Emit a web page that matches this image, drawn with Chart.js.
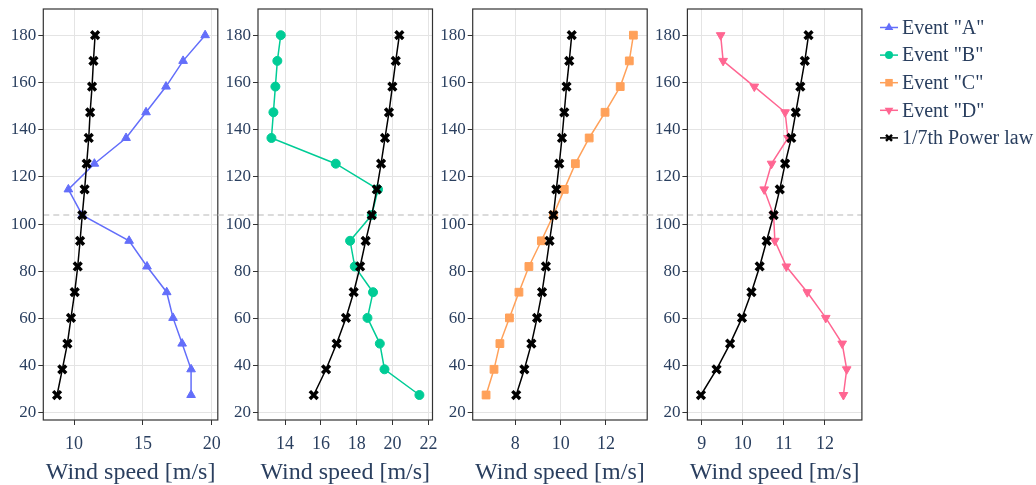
<!DOCTYPE html>
<html>
<head>
<meta charset="utf-8">
<script src="https://cdn.jsdelivr.net/npm/chart.js@4.4.1/dist/chart.umd.min.js"></script>
<style>
  body { margin: 0; background: #fff; width: 1036px; height: 485px; overflow: hidden; position: relative; }
  .panel { position: absolute; top: 0; height: 485px; }
</style>
</head>
<body>
<div class="panel" id="p0"><canvas id="c0"></canvas></div>
<div class="panel" id="p1"><canvas id="c1"></canvas></div>
<div class="panel" id="p2"><canvas id="c2"></canvas></div>
<div class="panel" id="p3"><canvas id="c3"></canvas></div>
<script>
// measurement heights [m] and hub height
const heights = [27.5, 38.4, 49.3, 60.2, 71.1, 82.0, 92.9, 103.8, 114.7, 125.6, 136.5, 147.4, 158.3, 169.2, 180.1];
const hubHeight = 103.8;

// wind speed profiles [m/s], bottom to top
const eventA = [18.50, 18.50, 17.85, 17.19, 16.73, 15.30, 14.00, 10.60, 9.59, 11.48, 13.78, 15.23, 16.68, 17.92, 19.52];
const powerA = [8.77, 9.15, 9.52, 9.78, 10.05, 10.27, 10.44, 10.60, 10.77, 10.92, 11.07, 11.17, 11.31, 11.41, 11.53];
const eventB = [21.50, 19.55, 19.29, 18.60, 18.91, 17.89, 17.63, 18.84, 19.19, 16.83, 13.24, 13.35, 13.46, 13.57, 13.76];
const powerB = [15.60, 16.29, 16.88, 17.40, 17.83, 18.19, 18.50, 18.84, 19.12, 19.36, 19.58, 19.80, 19.99, 20.18, 20.38];
const eventC = [6.71, 7.06, 7.32, 7.74, 8.16, 8.60, 9.15, 9.68, 10.16, 10.65, 11.26, 11.96, 12.63, 13.03, 13.21];
const powerC = [8.04, 8.40, 8.71, 8.96, 9.18, 9.35, 9.51, 9.68, 9.81, 9.94, 10.06, 10.16, 10.26, 10.38, 10.49];
const eventD = [12.45, 12.53, 12.42, 12.02, 11.57, 11.06, 10.78, 10.75, 10.52, 10.70, 11.10, 11.03, 10.28, 9.52, 9.46];
const powerD = [8.98, 9.36, 9.69, 9.98, 10.21, 10.41, 10.58, 10.75, 10.90, 11.03, 11.18, 11.29, 11.40, 11.51, 11.60];

// tick labels
const yTicks = [20, 40, 60, 80, 100, 120, 140, 160, 180];
const xTicksA = [10, 15, 20];
const xTicksB = [14, 16, 18, 20, 22];
const xTicksC = [8, 10, 12];
const xTicksD = [9, 10, 11, 12];

const legendLabels = ['Event "A"', 'Event "B"', 'Event "C"', 'Event "D"', '1/7th Power law'];
const xTitle = 'Wind speed [m/s]';

const FONT = "'Liberation Serif', 'Times New Roman', serif";
const TEXT = '#2a3f5f';
const GRID = '#e4e4e4';
const AXIS = '#333';

const colors = ['#636efa', '#00cc96', '#ffa15a', '#ff6692', '#000000'];
const styles = [
  { pointStyle: 'triangle', radius: 5, rotation: 0 },
  { pointStyle: 'circle', radius: 4.5, rotation: 0 },
  { pointStyle: 'rect', radius: 5.5, rotation: 0 },
  { pointStyle: 'triangle', radius: 5, rotation: 180 },
  { pointStyle: 'crossRot', radius: 5.5, rotation: 0 }
];

// plot area geometry
const PLOT_TOP = 8.3, PLOT_BOTTOM = 420, PLOT_W = 174.5;
const PLOT_LEFT = [43.3, 258.0, 472.7, 687.4];
const PAGE_W = 1036, PAGE_H = 485;

const panels = [
  { event: eventA, power: powerA, idx: 0, min: 7.77, max: 20.44, ticks: xTicksA },
  { event: eventB, power: powerB, idx: 1, min: 12.49, max: 22.23, ticks: xTicksB },
  { event: eventC, power: powerC, idx: 2, min: 6.12, max: 13.82, ticks: xTicksC },
  { event: eventD, power: powerD, idx: 3, min: 8.65, max: 12.90, ticks: xTicksD }
];

function series(vals) {
  return vals.map((v, i) => ({ x: v, y: heights[i] }));
}

function lineSet(vals, k) {
  const s = styles[k];
  return {
    data: series(vals),
    borderColor: colors[k],
    backgroundColor: colors[k],
    borderWidth: 1.5,
    pointStyle: s.pointStyle,
    pointRadius: s.radius,
    pointRotation: s.rotation,
    pointBorderWidth: k === 4 ? 3.5 : 1,
    pointBorderColor: colors[k],
    pointBackgroundColor: colors[k],
    tension: 0
  };
}

// box around each plot area
const frame = {
  id: 'frame',
  beforeDatasetsDraw(chart) {
    const { ctx, chartArea: a } = chart;
    ctx.save();
    ctx.strokeStyle = AXIS;
    ctx.lineWidth = 1.2;
    ctx.strokeRect(a.left, a.top, a.right - a.left, a.bottom - a.top);
    ctx.restore();
  }
};

// dashed line at hub height
const hubLine = {
  id: 'hubLine',
  beforeDatasetsDraw(chart, args, opts) {
    const { ctx, chartArea: a } = chart;
    const y = chart.scales.y.getPixelForValue(hubHeight);
    ctx.save();
    ctx.strokeStyle = '#d0d0d0';
    ctx.lineWidth = 1.5;
    ctx.setLineDash([6, 4]);
    ctx.beginPath();
    ctx.moveTo(a.left - (opts.lead || 0), y);
    ctx.lineTo(a.right, y);
    ctx.stroke();
    ctx.restore();
  }
};

function marker(ctx, k, x, y, r) {
  const s = styles[k];
  ctx.beginPath();
  if (s.pointStyle === 'circle') {
    ctx.arc(x, y, r * 0.8, 0, Math.PI * 2);
    ctx.fill();
  } else if (s.pointStyle === 'rect') {
    ctx.fillRect(x - r * 0.75, y - r * 0.75, r * 1.5, r * 1.5);
  } else if (s.pointStyle === 'triangle') {
    const d = s.rotation ? -1 : 1;
    ctx.moveTo(x, y - d * r);
    ctx.lineTo(x + r * 0.87, y + d * r * 0.5);
    ctx.lineTo(x - r * 0.87, y + d * r * 0.5);
    ctx.closePath();
    ctx.fill();
  } else {
    const q = r * 0.6;
    ctx.lineWidth = 2.5;
    ctx.moveTo(x - q, y - q); ctx.lineTo(x + q, y + q);
    ctx.moveTo(x + q, y - q); ctx.lineTo(x - q, y + q);
    ctx.stroke();
  }
}

// legend drawn to the right of the last panel
const legendBox = {
  id: 'legendBox',
  afterDraw(chart, args, opts) {
    if (!opts.show) return;
    const ctx = chart.ctx;
    const ox = opts.offsetX;
    ctx.save();
    ctx.font = '20px ' + FONT;
    ctx.textBaseline = 'middle';
    ctx.textAlign = 'left';
    legendLabels.forEach((label, k) => {
      const y = 27.5 + k * 27.6;
      ctx.strokeStyle = colors[k];
      ctx.fillStyle = colors[k];
      ctx.lineWidth = 1.5;
      ctx.beginPath();
      ctx.moveTo(880 - ox, y);
      ctx.lineTo(898 - ox, y);
      ctx.stroke();
      marker(ctx, k, 889 - ox, y, 5);
      ctx.fillStyle = TEXT;
      ctx.fillText(label, 902 - ox, y + 1);
    });
    ctx.restore();
  }
};

panels.forEach((p, n) => {
  const plotLeft = PLOT_LEFT[n];
  const boxLeft = Math.floor(plotLeft - 44);
  const yAxisW = plotLeft - boxLeft;
  const last = n === panels.length - 1;
  const boxW = last ? PAGE_W - boxLeft : Math.ceil(yAxisW + PLOT_W + 10);
  const padRight = boxW - yAxisW - PLOT_W;

  const box = document.getElementById('p' + n);
  box.style.left = boxLeft + 'px';
  box.style.width = boxW + 'px';

  new Chart(document.getElementById('c' + n), {
    type: 'line',
    data: {
      datasets: [lineSet(p.power, 4), lineSet(p.event, p.idx)]
    },
    options: {
      responsive: true,
      maintainAspectRatio: false,
      animation: false,
      events: [],
      layout: { padding: { top: PLOT_TOP, bottom: 0, left: 0, right: padRight } },
      plugins: {
        legend: { display: false },
        tooltip: { enabled: false },
        hubLine: { lead: n === 0 ? 0 : PLOT_LEFT[n] - PLOT_LEFT[n - 1] - PLOT_W },
        legendBox: { show: last, offsetX: boxLeft }
      },
      scales: {
        x: {
          type: 'linear',
          min: p.min,
          max: p.max,
          afterBuildTicks: s => { s.ticks = p.ticks.map(v => ({ value: v })); },
          afterFit: s => { s.height = PAGE_H - PLOT_BOTTOM; s.paddingLeft = 0; s.paddingRight = 0; },
          grid: { color: GRID, tickColor: AXIS, tickLength: 5, lineWidth: 1 },
          border: { display: false },
          ticks: { color: TEXT, font: { family: FONT, size: 18 }, padding: 8, maxRotation: 0 },
          title: { display: true, text: xTitle, color: TEXT, font: { family: FONT, size: 24, lineHeight: 1.0 }, padding: { top: 0, bottom: 0 } }
        },
        y: {
          type: 'linear',
          min: 16.9,
          max: 191.2,
          afterBuildTicks: s => { s.ticks = yTicks.map(v => ({ value: v })); },
          afterFit: s => { s.width = yAxisW; s.paddingTop = 0; s.paddingBottom = 0; },
          grid: { color: GRID, tickColor: AXIS, tickLength: 5, lineWidth: 1 },
          border: { display: false },
          ticks: { color: TEXT, font: { family: FONT, size: 17 }, padding: 2 }
        }
      }
    },
    plugins: [hubLine, frame, legendBox]
  });
});
</script>
</body>
</html>
